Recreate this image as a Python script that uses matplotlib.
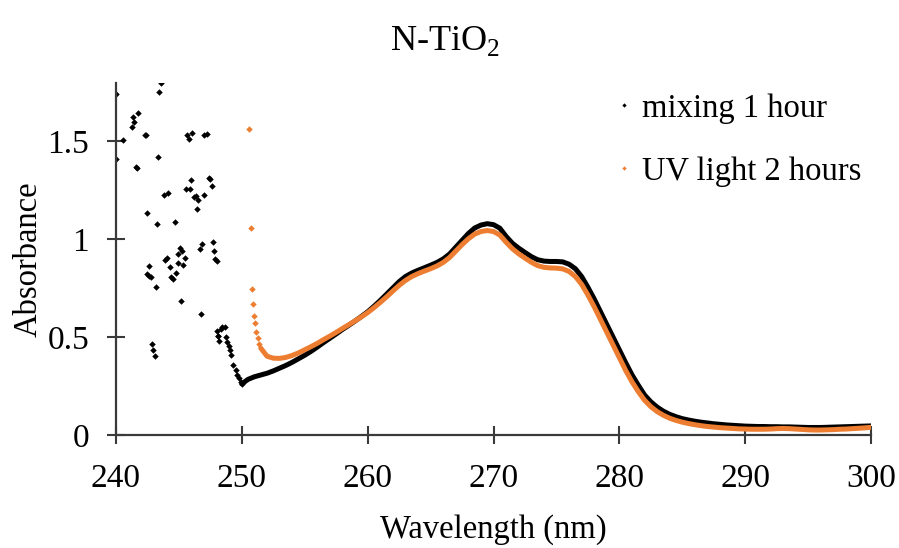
"""UV-vis absorbance of N-TiO2: mixing 1 hour vs. UV light 2 hours."""

import matplotlib

matplotlib.use("Agg")
import matplotlib.pyplot as plt
import numpy as np
from matplotlib.lines import Line2D

# --- noisy region of the "mixing 1 hour" spectrum (detector saturation) ---
mix_noise_nm = [
    240.0, 240.0, 240.56, 241.25, 241.4, 241.33, 241.75, 242.3, 242.35, 241.57,
    241.65, 242.5, 242.63, 242.5, 242.6, 242.8, 243.15, 242.85, 242.95, 243.08,
    243.25, 243.35, 243.45, 243.56, 243.8, 244.1, 243.9, 244.05, 244.3, 244.35,
    244.5, 244.75, 244.68, 244.9, 244.95, 245.07, 245.23, 245.15, 245.34, 245.47,
    245.66, 245.77, 246.08, 245.55, 245.87, 245.98, 246.2, 246.35, 246.55, 246.45,
    246.66, 246.85, 246.77, 246.98, 247.03, 247.25, 247.4, 247.5, 247.6, 247.67,
    247.78, 247.86, 247.99,
    248.01, 248.07, 248.11, 248.19, 248.33, 248.46, 248.65, 248.73, 248.86, 248.99,
    249.07, 249.17, 249.33, 249.52, 249.65, 249.79, 249.92, 250.05,
]
mix_noise_abs = [
    1.745, 1.41, 1.51, 1.574, 1.598, 1.623, 1.643, 1.531, 1.531, 1.369,
    1.364, 1.137, 0.866, 0.822, 0.815, 0.807, 0.759, 0.464, 0.435, 0.404,
    1.078, 1.422, 1.753, 1.799, 1.228, 1.236, 0.895, 0.904, 0.861, 0.81,
    0.80, 0.827, 1.088, 0.878, 0.924, 0.955, 0.943, 0.684, 0.871, 0.904,
    1.533, 1.513, 1.543, 1.257, 1.257, 1.303, 1.214, 1.219, 1.199, 1.156,
    0.951, 0.977, 0.619, 1.226, 1.533, 1.536, 1.313, 1.309, 1.27, 0.987,
    0.943, 0.899, 0.887,
    0.534, 0.508, 0.506, 0.482, 0.541, 0.551, 0.554, 0.50, 0.477, 0.455,
    0.435, 0.409, 0.358, 0.332, 0.307, 0.29, 0.273, 0.261,
]

# --- smooth part, sampled every 0.5 nm ---
mix_nm = np.arange(250.0, 300.01, 0.5)
mix_abs = [
    0.262, 0.285, 0.298, 0.307, 0.316, 0.328, 0.342, 0.356, 0.372, 0.390,
    0.408, 0.428, 0.450, 0.473, 0.495, 0.517, 0.540, 0.561, 0.583, 0.606,
    0.630, 0.658, 0.688, 0.720, 0.752, 0.784, 0.810, 0.828, 0.842, 0.855,
    0.868, 0.882, 0.900, 0.925, 0.960, 0.995, 1.030, 1.058, 1.073, 1.080,
    1.075, 1.057, 1.015, 0.980, 0.955, 0.933, 0.912, 0.896, 0.889, 0.887,
    0.887, 0.885, 0.873, 0.850, 0.810, 0.755, 0.695, 0.630, 0.565, 0.500,
    0.435, 0.370, 0.308, 0.255, 0.205, 0.170, 0.143, 0.122, 0.106, 0.094,
    0.084, 0.077, 0.071, 0.066, 0.062, 0.058, 0.055, 0.052, 0.050, 0.048,
    0.046, 0.045, 0.044, 0.044, 0.043, 0.043, 0.042, 0.042, 0.041, 0.040,
    0.039, 0.039, 0.039, 0.040, 0.041, 0.042, 0.043, 0.044, 0.045, 0.046,
    0.047,
]

# --- "UV light 2 hours": spike at the cut-off, then smooth part ---
uv_spike_nm = [250.6, 250.7, 250.8, 250.9, 250.98, 251.06, 251.16, 251.27, 251.38]
uv_spike_abs = [1.565, 1.057, 0.745, 0.668, 0.609, 0.574, 0.527, 0.494, 0.467]

uv_nm = np.arange(251.5, 300.01, 0.5)
uv_abs = [
    0.445, 0.403, 0.393, 0.392, 0.397, 0.407, 0.420, 0.436, 0.452, 0.469,
    0.488, 0.506, 0.525, 0.545, 0.564, 0.584, 0.604, 0.626,
    0.651, 0.678, 0.706, 0.736, 0.765, 0.790, 0.810, 0.825, 0.838, 0.850,
    0.864, 0.882, 0.907, 0.940, 0.973, 1.003, 1.027, 1.040, 1.045, 1.040,
    1.022, 0.985, 0.952, 0.926, 0.904, 0.883, 0.866, 0.857, 0.854, 0.853,
    0.849, 0.836, 0.810, 0.770, 0.715, 0.655, 0.590, 0.525, 0.460, 0.395,
    0.330, 0.272, 0.222, 0.178, 0.145, 0.120, 0.101, 0.086, 0.075, 0.066,
    0.059, 0.053, 0.048, 0.044, 0.041, 0.038, 0.036, 0.034, 0.032, 0.031,
    0.030, 0.030, 0.030, 0.031, 0.033, 0.034, 0.033, 0.031, 0.029, 0.027,
    0.026, 0.026, 0.027, 0.028, 0.030, 0.031, 0.033, 0.035, 0.037, 0.040,
]

x_ticks = [240, 250, 260, 270, 280, 290, 300]
y_ticks = [0, 0.5, 1, 1.5]
y_tick_labels = ["0", "0.5", "1", "1.5"]

BLACK = "#000000"
ORANGE = "#ED7D31"
AXIS = "#3a3a3a"


def main() -> None:
    plt.rcParams["font.family"] = ["Liberation Serif", "DejaVu Serif"]
    plt.rcParams["mathtext.fontset"] = "custom"
    plt.rcParams["mathtext.rm"] = "Liberation Serif"

    fig = plt.figure(figsize=(8.99, 5.48), dpi=100)
    ax = fig.add_axes([0.129, 0.206, 0.84, 0.643])

    # mixing 1 hour
    ax.plot(mix_noise_nm, mix_noise_abs, ls="none", marker="D", ms=3.3,
            color=BLACK, mew=0)
    ax.plot(mix_nm, mix_abs, color=BLACK, lw=3.6, solid_capstyle="round")

    # UV light 2 hours (drawn on top)
    ax.plot(uv_spike_nm, uv_spike_abs, ls="none", marker="D", ms=3.3,
            color=ORANGE, mew=0)
    ax.plot(uv_nm, uv_abs, color=ORANGE, lw=3.6, solid_capstyle="round")

    ax.set_xlim(240, 300)
    ax.set_ylim(0, 1.8)
    ax.set_xticks(x_ticks)
    ax.set_yticks(y_ticks)
    ax.set_yticklabels(y_tick_labels)

    for side in ("top", "right"):
        ax.spines[side].set_visible(False)
    for side in ("left", "bottom"):
        ax.spines[side].set_color(AXIS)
        ax.spines[side].set_linewidth(1.6)
    ax.tick_params(direction="inout", length=13.5, width=1.5, color=AXIS,
                   labelsize=24, labelcolor="black")
    ax.tick_params(axis="x", pad=14)
    ax.tick_params(axis="y", pad=12.5)

    ax.set_xlabel("Wavelength (nm)", fontsize=23.5, labelpad=14)
    ax.set_ylabel("Absorbance", fontsize=23.5, labelpad=3)

    fig.text(0.495, 0.925, "N-TiO$_\\mathregular{2}$", fontsize=26,
             ha="center", va="center")

    handles = [
        Line2D([], [], ls="none", marker="D", ms=2.2, color=BLACK, mew=0),
        Line2D([], [], ls="none", marker="D", ms=2.2, color=ORANGE, mew=0),
    ]
    ax.legend(handles, ["mixing 1 hour", "UV light 2 hours"], frameon=False,
              fontsize=23.5, loc="upper left", bbox_to_anchor=(0.665, 0.86),
              bbox_transform=fig.transFigure, handlelength=0.6,
              handletextpad=0.25, labelspacing=1.0, borderpad=0)

    fig.savefig("out.png", dpi=100)
    plt.close(fig)


if __name__ == "__main__":
    main()
